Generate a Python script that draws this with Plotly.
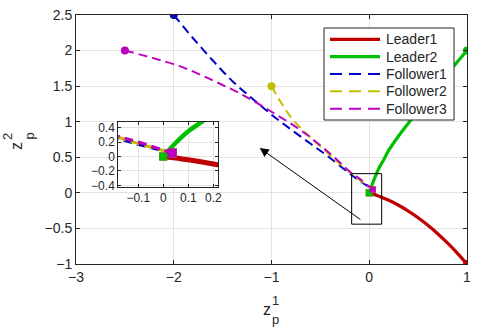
import plotly.graph_objects as go

# ---- data ----
leader1_x = [0, 0.1, 0.2, 0.3, 0.4, 0.5, 0.6, 0.7, 0.8, 0.9, 1.0]
leader1_y = [0, -0.046, -0.104, -0.174, -0.256, -0.35, -0.456, -0.574, -0.704, -0.846, -1.0]

leader2_x = [0, 0.05, 0.1, 0.15, 0.2, 0.3, 0.4, 0.5, 0.6, 0.7, 0.8, 0.9, 1.0]
leader2_y = [0, 0.19, 0.35, 0.47, 0.6, 0.8, 0.98, 1.15, 1.33, 1.5, 1.67, 1.84, 2.0]

follower1_x = [-2.0, -1.8, -1.6, -1.4, -1.2, -1.0, -0.8, -0.6, -0.4, -0.2, -0.1, 0.036]
follower1_y = [2.5, 2.17, 1.86, 1.57, 1.33, 1.10, 0.89, 0.69, 0.49, 0.27, 0.17, 0.047]

follower2_x = [-1.0, -0.8, -0.6, -0.4, -0.2, -0.1, 0.036]
follower2_y = [1.5, 1.06, 0.78, 0.53, 0.29, 0.18, 0.047]

follower3_x = [-2.5, -2.2, -1.9, -1.6, -1.3, -1.0, -0.7, -0.4, -0.2, -0.1, 0.036]
follower3_y = [2.0, 1.89, 1.76, 1.58, 1.38, 1.14, 0.88, 0.55, 0.3, 0.2, 0.047]

x_ticks = [-3, -2, -1, 0, 1]
y_ticks = [-1, -0.5, 0, 0.5, 1, 1.5, 2, 2.5]
inset_x_ticks = [-0.1, 0, 0.1, 0.2]
inset_y_ticks = [-0.4, -0.2, 0, 0.2, 0.4]

FONT = "Liberation Sans, Arial, sans-serif"
TXT = "#262626"

series = [
    ("Leader1", leader1_x, leader1_y, "#c00000", "solid", 3.2, 5),
    ("Leader2", leader2_x, leader2_y, "#00bf00", "solid", 3.2, 4.5),
    ("Follower1", follower1_x, follower1_y, "#0000c8", "9px,5px", 2, 3.2),
    ("Follower2", follower2_x, follower2_y, "#bfbf00", "9px,5px", 2, 3.2),
    ("Follower3", follower3_x, follower3_y, "#bf00bf", "9px,5px", 2, 3.2),
]

fig = go.Figure()

for name, xs, ys, color, dash, w, w_in in series:
    leader = name.startswith("Leader")
    # main axes
    fig.add_trace(go.Scatter(x=xs, y=ys, mode="lines", name=name, showlegend=False,
                             line=dict(color=color, width=w, dash=dash, shape="spline")))
    # dot at far end, square at meeting point
    far = -1 if leader else 0
    near = 0 if leader else -1
    fig.add_trace(go.Scatter(x=[xs[far]], y=[ys[far]], mode="markers", showlegend=False,
                             marker=dict(color=color, size=8, symbol="circle")))
    fig.add_trace(go.Scatter(x=[xs[near]], y=[ys[near]], mode="markers", showlegend=False,
                             marker=dict(color=color, size=7 if leader else 6, symbol="square")))
    # inset axes
    fig.add_trace(go.Scatter(x=xs, y=ys, mode="lines", showlegend=False, xaxis="x2", yaxis="y2",
                             line=dict(color=color, width=w_in, dash=dash, shape="spline")))
    fig.add_trace(go.Scatter(x=[xs[near]], y=[ys[near]], mode="markers", showlegend=False,
                             xaxis="x2", yaxis="y2",
                             marker=dict(color=color, size=8 if leader else 9, symbol="square")))

axis_common = dict(showline=True, linecolor=TXT, linewidth=1, mirror="ticks", ticks="inside",
                   ticklen=4, tickcolor=TXT, showgrid=True, gridcolor="#e3e3e3", zeroline=False,
                   automargin=False, tickfont=dict(family=FONT, size=14, color=TXT))

# MATLAB-style legend box (plotly's own legend rows are too tall)
leg_x0, leg_x1, leg_y0, leg_y1 = 0.6343, 0.9668, 0.5783, 0.9478
leg_line_x0, leg_line_x1, leg_text_x = 0.6496, 0.7775, 0.7877
leg_rows = [0.9024, 0.8325, 0.7631, 0.6936, 0.6237]

shapes = [dict(type="rect", xref="x", yref="y", x0=-0.18, x1=0.127, y0=-0.44, y1=0.27,
               line=dict(color="black", width=1)),
          dict(type="rect", xref="paper", yref="paper", x0=leg_x0, x1=leg_x1, y0=leg_y0, y1=leg_y1,
               fillcolor="white", line=dict(color=TXT, width=1), layer="above")]
annotations = [
    # arrow from zoom box to inset
    dict(x=-1.12, y=0.63, ax=-0.075, ay=-0.39, xref="x", yref="y", axref="x", ayref="y",
         text="", showarrow=True, arrowhead=2, arrowsize=1.8, arrowwidth=1, arrowcolor="black"),
]
labels = [
    # x label z_p^1
    dict(x=0.4885, y=-0.181, text="z", font=dict(size=16)),
    dict(x=0.5115, y=-0.1446, text="1", font=dict(size=13)),
    dict(x=0.510, y=-0.221, text="p", font=dict(size=13)),
    # y label z_p^2
    dict(x=-0.151, y=0.474, text="z", font=dict(size=16), textangle=-90),
    dict(x=-0.175, y=0.512, text="2", font=dict(size=13), textangle=-90),
    dict(x=-0.120, y=0.512, text="p", font=dict(size=13), textangle=-90),
]
for a in labels:
    a.update(xref="paper", yref="paper", showarrow=False, xanchor="center", yanchor="middle")
annotations += labels

for (name, xs, ys, color, dash, w, w_in), ry in zip(series, leg_rows):
    leg_dash = "solid" if dash == "solid" else "12px,7px"
    shapes.append(dict(type="line", xref="paper", yref="paper", x0=leg_line_x0, x1=leg_line_x1,
                       y0=ry, y1=ry, line=dict(color=color, width=w, dash=leg_dash), layer="above"))
    annotations.append(dict(x=leg_text_x, y=ry, xref="paper", yref="paper", text=name,
                            showarrow=False, xanchor="left", yanchor="middle",
                            font=dict(size=14, color=TXT)))

fig.update_layout(
    width=489, height=329,
    margin=dict(l=76, r=22, t=15, b=65, autoexpand=False),
    paper_bgcolor="white", plot_bgcolor="white",
    font=dict(family=FONT, size=14, color=TXT),
    xaxis=dict(axis_common, range=[-3, 1], tickvals=x_ticks, domain=[0, 1]),
    yaxis=dict(axis_common, range=[-1, 2.5], tickvals=y_ticks, domain=[0, 1]),
    xaxis2=dict(axis_common, range=[-0.18, 0.22], tickvals=inset_x_ticks, anchor="y2",
                domain=[0.108, 0.364], tickfont=dict(family=FONT, size=12, color=TXT), ticklen=3),
    yaxis2=dict(axis_common, range=[-0.42, 0.48], tickvals=inset_y_ticks, anchor="x2",
                domain=[0.31, 0.571], tickfont=dict(family=FONT, size=12, color=TXT), ticklen=3),
    showlegend=False,
    shapes=shapes,
    annotations=annotations,
)

fig.write_html("out.html", config={"displayModeBar": False},
               post_script="document.body.style.margin='0';")
